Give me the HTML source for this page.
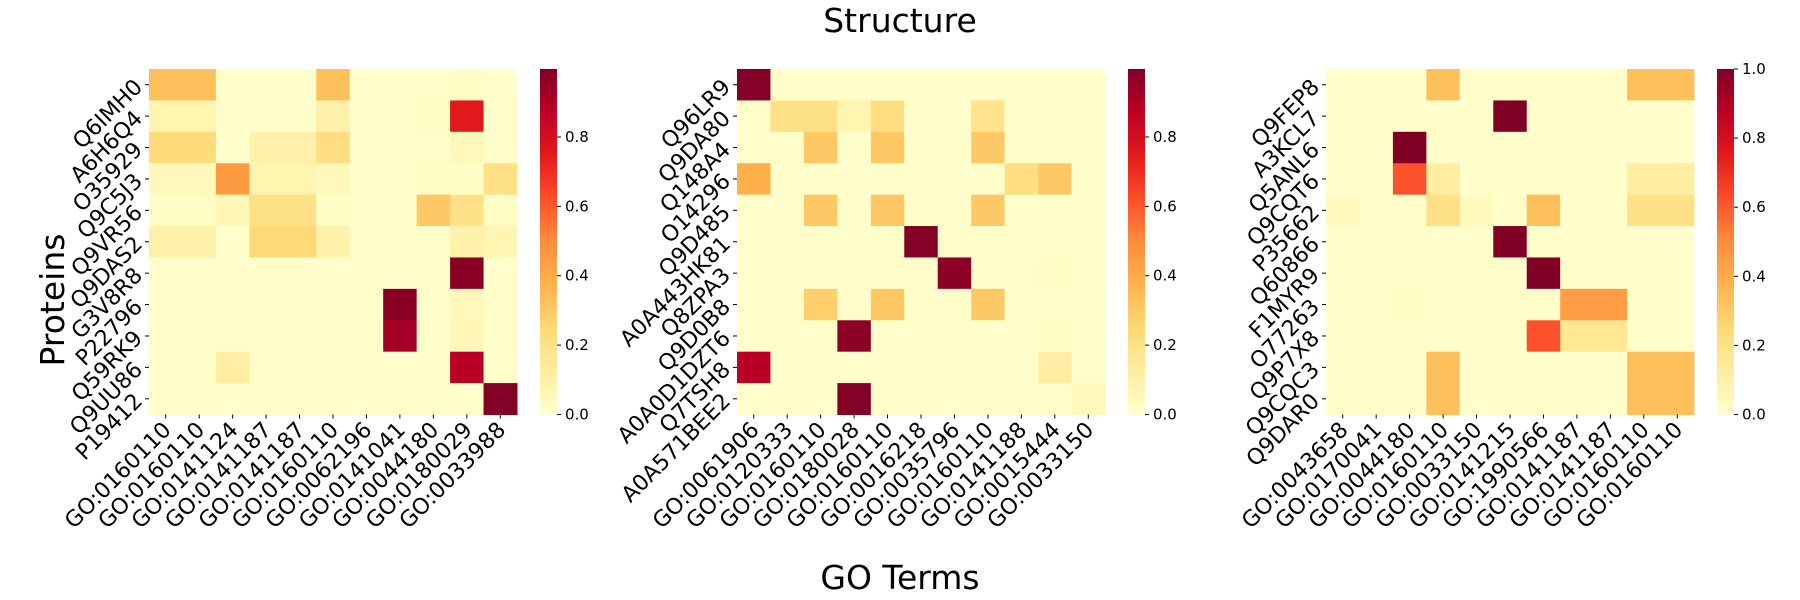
<!DOCTYPE html>
<html><head><meta charset="utf-8"><style>
html,body{margin:0;padding:0;background:#fff;}
svg{display:block;font-family:"DejaVu Sans","Liberation Sans",sans-serif;}
</style></head><body>
<svg id="s" width="1800" height="600" xmlns="http://www.w3.org/2000/svg">
<defs><linearGradient id="cb" x1="0" y1="1" x2="0" y2="0">
<stop offset="0" stop-color="#ffffcc"/><stop offset="0.125" stop-color="#ffeda0"/><stop offset="0.25" stop-color="#fed976"/><stop offset="0.375" stop-color="#feb24c"/><stop offset="0.5" stop-color="#fd8d3c"/><stop offset="0.625" stop-color="#fc4e2a"/><stop offset="0.75" stop-color="#e31a1c"/><stop offset="0.875" stop-color="#bd0026"/><stop offset="1" stop-color="#800026"/>
</linearGradient></defs>
<text x="900" y="32" font-size="33" text-anchor="middle">Structure</text>
<text x="900" y="589" font-size="33" text-anchor="middle">GO Terms</text>
<text transform="translate(64,300) rotate(-90)" font-size="33" text-anchor="middle">Proteins</text>
</svg>
<script>
(function(){
var stops=[[255,255,204],[255,237,160],[254,217,118],[254,178,76],[253,141,60],[252,78,42],[227,26,28],[189,0,38],[128,0,38]];
function col(v){v=Math.max(0,Math.min(1,v));var t=v*8,i=Math.min(7,Math.floor(t)),f=t-i,a=stops[i],b=stops[i+1];
return 'rgb('+[0,1,2].map(function(k){return Math.round(a[k]+(b[k]-a[k])*f)}).join(',')+')';}
function sp(a){var r=[];for(var i=0;i<11;i++)r.push(0.005);for(var k in a)r[k]=a[k];return r;}
var H=[
{x:149,max:0.996,ticks:[0,0.2,0.4,0.6,0.8],
rows:["Q6IMH0","A6H6Q4","O35929","Q9C5J3","Q9VR56","Q9DAS2","G3V8R8","P22796","Q59RK9","Q9UU86","P19412"],
cols:["GO:0160110","GO:0160110","GO:0141124","GO:0141187","GO:0141187","GO:0160110","GO:0062196","GO:0141041","GO:0044180","GO:0180029","GO:0033988"],
d:[sp({0:.33,1:.33,5:.33,9:.02,2:0,3:0,4:0,10:0}),sp({0:.08,1:.08,5:.1,8:.02,9:.75}),sp({0:.23,1:.23,2:0,3:.1,4:.1,5:.22,9:.05}),sp({0:.05,1:.05,2:.45,3:.08,4:.08,5:.05,8:.02,9:.02,10:.2}),sp({0:.02,1:.02,2:.06,3:.2,4:.2,5:.02,8:.3,9:.2,10:.02}),sp({0:.1,1:.1,2:0,3:.25,4:.25,5:.1,9:.1,10:.07}),sp({9:.98}),sp({7:.98,9:.05}),sp({7:.92,9:.06}),sp({2:.12,9:.88}),sp({10:.99})]},
{x:737,max:0.996,ticks:[0,0.2,0.4,0.6,0.8],
rows:["Q96LR9","Q9DA80","Q148A4","O14296","Q9D485","A0A443HK81","Q8ZPA3","Q9D0B8","A0A0D1DZT6","Q7TSH8","A0A571BEE2"],
cols:["GO:0061906","GO:0120333","GO:0160110","GO:0180028","GO:0160110","GO:0016218","GO:0035796","GO:0160110","GO:0141188","GO:0015444","GO:0033150"],
d:[sp({0:.99}),sp({1:.2,2:.2,3:.08,4:.22,7:.18}),sp({2:.3,4:.3,7:.3}),sp({0:.38,8:.22,9:.3}),sp({2:.3,4:.3,7:.3}),sp({5:.99}),sp({6:.97,9:.03}),sp({2:.28,4:.3,7:.3}),sp({3:.97,9:.02}),sp({0:.88,9:.12}),sp({3:.99,10:.05})]},
{x:1326,max:1.0,ticks:[0,0.2,0.4,0.6,0.8,1.0],
rows:["Q9FEP8","A3KCL7","Q5ANL6","Q9CQT6","P35662","Q60866","F1MYR9","O77263","Q9P7X8","Q9CQC3","Q9DAR0"],
cols:["GO:0043658","GO:0170041","GO:0044180","GO:0160110","GO:0033150","GO:0141215","GO:1990566","GO:0141187","GO:0141187","GO:0160110","GO:0160110"],
d:[sp({2:.01,3:.33,9:.33,10:.33}),sp({5:1}),sp({2:1}),sp({2:.62,3:.12,9:.12,10:.12}),sp({0:.04,3:.2,4:.04,6:.33,9:.2,10:.2}),sp({5:1}),sp({6:1}),sp({2:.02,7:.45,8:.45}),sp({6:.62,7:.16,8:.16}),sp({3:.33,9:.33,10:.33}),sp({3:.33,9:.33,10:.33})]}
];
var T0=69,W=368,Hh=345.5,cw=W/11,ch=Hh/11,out='';
H.forEach(function(h){
 for(var r=0;r<11;r++)for(var c=0;c<11;c++)
  out+='<rect x="'+(h.x+c*cw)+'" y="'+(T0+r*ch)+'" width="'+(cw+0.5)+'" height="'+(ch+0.5)+'" fill="'+col(h.d[r][c]/h.max)+'"/>';
 for(var r=0;r<11;r++){var y=T0+(r+0.5)*ch;
  out+='<line x1="'+(h.x-4)+'" y1="'+y+'" x2="'+h.x+'" y2="'+y+'" stroke="#000" stroke-width="1"/>';
  out+='<text transform="translate('+(h.x-10)+','+(y-1)+') rotate(-45)" font-size="22" text-anchor="end" dominant-baseline="central">'+h.rows[r]+'</text>';}
 for(var c=0;c<11;c++){var x=h.x+(c+0.5)*cw,b=T0+Hh;
  out+='<line x1="'+x+'" y1="'+b+'" x2="'+x+'" y2="'+(b+4)+'" stroke="#000" stroke-width="1"/>';
  out+='<text transform="translate('+(x+2)+','+(b+12)+') rotate(-45)" font-size="22" text-anchor="end" dominant-baseline="central">'+h.cols[c]+'</text>';}
 var cx=h.x+391;
 out+='<rect x="'+cx+'" y="'+T0+'" width="17" height="'+Hh+'" fill="url(#cb)"/>';
 h.ticks.forEach(function(t){var y=T0+Hh-(t/h.max)*Hh;
  out+='<line x1="'+(cx+17)+'" y1="'+y+'" x2="'+(cx+21)+'" y2="'+y+'" stroke="#000" stroke-width="1"/>';
  out+='<text x="'+(cx+25)+'" y="'+y+'" font-size="15" dominant-baseline="central">'+t.toFixed(1)+'</text>';});
});
document.getElementById('s').insertAdjacentHTML('beforeend',out);
})();
</script>
</body></html>
